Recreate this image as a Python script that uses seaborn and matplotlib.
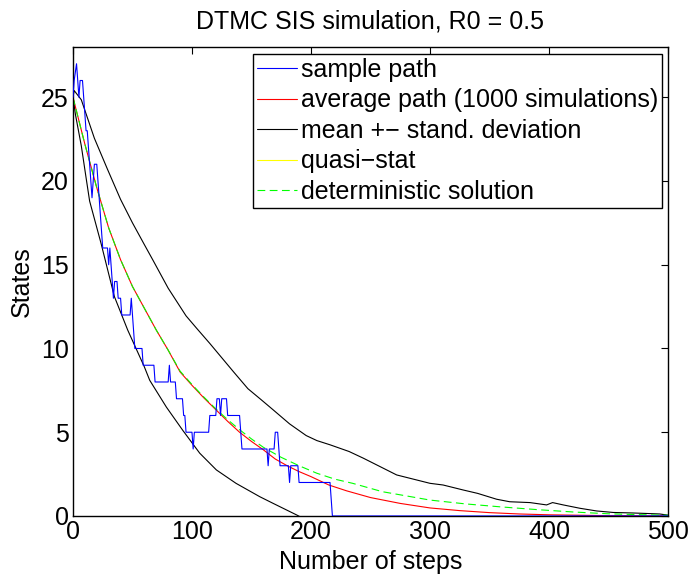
import numpy as np
import pandas as pd
import matplotlib
matplotlib.use("Agg")
import matplotlib.pyplot as plt
import seaborn as sns

# ---- data ----
sample_steps = [0, 1, 3, 4, 5, 6, 8, 9, 10, 11, 12, 13, 14, 15, 16, 17, 18, 20, 21, 22,
                23, 24, 25, 29, 30, 31, 32, 33, 34, 35, 37, 38, 40, 41, 48, 49, 50, 51, 52,
                58, 59, 68, 69, 80, 81, 82, 86, 87, 92, 93, 94, 95, 100, 101, 102, 114, 115,
                120, 121, 123, 124, 125, 129, 130, 140, 141, 142, 163, 164, 165, 169, 170,
                172, 173, 174, 181, 182, 183, 189, 190, 216, 217, 218, 500]
sample_states = [25, 26, 27, 26, 25, 26, 26, 25, 24, 23, 23, 22, 21, 20, 19, 20, 21, 21, 20, 19,
                 18, 17, 16, 16, 15, 16, 15, 14, 13, 14, 14, 13, 13, 12, 12, 13, 12, 11, 10,
                 10, 9, 9, 8, 8, 9, 8, 8, 7, 7, 6, 6, 5, 5, 4, 5, 5, 6,
                 6, 7, 7, 6, 7, 7, 6, 6, 5, 4, 4, 3, 4, 4, 5,
                 5, 4, 3, 3, 2, 3, 3, 2, 2, 1, 0, 0]

avg_steps = [0, 10, 20, 30, 40, 50, 60, 70, 80, 90, 100, 110, 120, 130, 140, 150, 160, 170,
             180, 190, 200, 215, 230, 250, 275, 300, 325, 350, 375, 400, 450, 500]
avg_states = [25, 22.2, 19.6, 17.2, 15.3, 13.7, 12.4, 11.1, 9.9, 8.6, 7.8, 7.05, 6.35, 5.65,
              5.0, 4.45, 3.95, 3.4, 3.0, 2.65, 2.35, 1.85, 1.5, 1.1, 0.75, 0.48, 0.32, 0.2,
              0.12, 0.07, 0.02, 0.0]

upper_steps = [0, 1, 7, 18, 29, 40, 50, 60, 67, 80, 95, 104, 115, 125, 135, 147, 158, 168,
               182, 196, 205, 216, 232, 244, 258, 272, 286, 300, 311, 328, 340, 356, 367,
               384, 398, 403, 412, 426, 440, 454, 470, 482, 493, 500]
upper_states = [25, 25.4, 24.85, 22.55, 20.7, 18.9, 17.5, 16.2, 15.3, 13.6, 11.95, 11.2, 10.3,
                9.45, 8.6, 7.6, 6.95, 6.35, 5.5, 4.8, 4.5, 4.25, 3.85, 3.45, 2.95, 2.45, 2.2,
                1.95, 1.85, 1.55, 1.35, 1.0, 0.85, 0.8, 0.66, 0.8, 0.66, 0.46, 0.3, 0.21,
                0.18, 0.15, 0.12, 0.05]

lower_steps = [0, 2, 7, 11, 14, 23.5, 34.8, 46, 60, 64.5, 78.5, 92.4, 106.5, 120.5, 137,
               157, 168, 188, 195]
lower_states = [25, 24.0, 22.1, 20.2, 18.8, 16.3, 13.1, 11.1, 8.9, 8.1, 6.5, 5.1, 3.75,
                2.75, 1.95, 1.15, 0.76, 0.06, -0.2]

det_steps = [0, 10, 20, 30, 40, 50, 60, 70, 80, 90, 100, 110, 120, 130, 140, 150, 160, 175,
             190, 205, 220, 235, 260, 280, 300, 330, 360, 390, 420, 450, 475, 500]
det_states = [25, 22.2, 19.6, 17.2, 15.3, 13.7, 12.4, 11.1, 9.9, 8.65, 7.85, 7.1, 6.4, 5.75,
              5.15, 4.6, 4.1, 3.5, 3.0, 2.55, 2.2, 1.95, 1.45, 1.2, 0.95, 0.72, 0.54, 0.38,
              0.24, 0.13, 0.08, 0.04]

quasi_steps = []
quasi_states = []

title = "DTMC SIS simulation, R0 = 0.5"
xlabel = "Number of steps"
ylabel = "States"
labels = ["sample path", "average path (1000 simulations)", "mean +\u2212 stand. deviation",
          "quasi\u2212stat", "deterministic solution"]

# ---- style ----
sns.set_style("white")
plt.rcParams["font.family"] = ["Liberation Sans", "DejaVu Sans"]
plt.rcParams["xtick.direction"] = "in"
plt.rcParams["ytick.direction"] = "in"
for key in ["text.color", "axes.labelcolor", "xtick.color", "ytick.color",
            "xtick.labelcolor", "ytick.labelcolor"]:
    plt.rcParams[key] = "black"

fig = plt.figure(figsize=(6.91, 5.76), dpi=100)
ax = fig.add_axes([0.1056, 0.1042, 0.8611, 0.8142])

lw = 0.8
fs = 18
sns.lineplot(x=sample_steps, y=sample_states, ax=ax, color=(0, 0, 1), lw=lw,
             estimator=None, sort=False, label=labels[0], zorder=3)
sns.lineplot(x=avg_steps, y=avg_states, ax=ax, color=(1, 0, 0), lw=lw,
             estimator=None, label=labels[1])
sns.lineplot(x=upper_steps, y=upper_states, ax=ax, color="black", lw=lw,
             estimator=None, label=labels[2])
sns.lineplot(x=lower_steps, y=lower_states, ax=ax, color="black", lw=lw,
             estimator=None)
ax.plot(quasi_steps, quasi_states, color=(1, 1, 0), lw=lw, label=labels[3])
sns.lineplot(x=det_steps, y=det_states, ax=ax, color=(0, 1, 0), lw=lw,
             estimator=None, linestyle=(0, (7, 4)), label=labels[4])

ax.set_xlim(0, 500)
ax.set_ylim(0, 28)
ax.set_xticks([0, 100, 200, 300, 400, 500])
ax.set_yticks([0, 5, 10, 15, 20, 25])
ax.tick_params(axis="both", which="both", direction="in", length=5, width=0.8,
               top=True, right=True, labelsize=fs, pad=3, color="black",
               labelcolor="black")
for s in ax.spines.values():
    s.set_visible(True)
    s.set_color("black")
    s.set_linewidth(1.0)

ax.set_title(title, fontsize=fs, pad=13, color="black")
ax.set_xlabel(xlabel, fontsize=fs, labelpad=4, color="black")
ax.set_ylabel(ylabel, fontsize=fs, labelpad=5, color="black")

leg = ax.legend(loc="upper right", bbox_to_anchor=(0.99, 0.985), fontsize=fs,
                frameon=True, fancybox=False, framealpha=1, edgecolor="black",
                handlelength=1.6, handletextpad=0.18, labelspacing=0.26,
                borderpad=0.15, borderaxespad=0, labelcolor="black")
leg.get_frame().set_linewidth(1.0)

fig.savefig("out.png", dpi=100)
